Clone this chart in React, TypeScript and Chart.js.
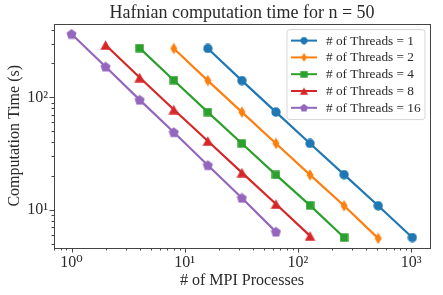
import React, { useEffect, useRef } from "react";
import { Chart, registerables } from "chart.js";

Chart.register(...registerables);

// ---- Data ----
const threadCounts = [1, 2, 4, 8, 16];
const processes1 = [16, 32, 64, 128, 256, 512, 1024];
const processes2 = [8, 16, 32, 64, 128, 256, 512];
const processes4 = [4, 8, 16, 32, 64, 128, 256];
const processes8 = [2, 4, 8, 16, 32, 64, 128];
const processes16 = [1, 2, 4, 8, 16, 32, 64];
const time1 = [272, 141, 74, 39, 20.6, 10.9, 5.7];
const time2 = [272, 141, 74, 39, 20.5, 10.9, 5.6];
const time4 = [274, 142, 74, 39, 20.5, 11.0, 5.7];
const time8 = [292, 150, 78, 41, 21.5, 11.3, 5.9];
const time16 = [365, 187, 95, 49, 25, 12.8, 6.4];
const xTickValues = [1, 10, 100, 1000];
const xTickLabels = ["10\u2070", "10\u00B9", "10\u00B2", "10\u00B3"];
const yTickValues = [10, 100];
const yTickLabels = ["10\u00B9", "10\u00B2"];

const titleText = "Hafnian computation time for n = 50";
const xTitle = "# of MPI Processes";
const yTitle = "Computation Time (s)";

const seriesColors = ["#1f77b4", "#ff7f0e", "#2ca02c", "#d62728", "#9467bd"];
const seriesShapes = ["circle", "thinDiamond", "square", "triangle", "pentagon"];
const seriesX = [processes1, processes2, processes4, processes8, processes16];
const seriesY = [time1, time2, time4, time8, time16];

const FONT = "'Liberation Serif', 'DejaVu Serif', serif";
const TEXT = "#2a2a2a";
const SPINE = "#444";

function makeMarker(shape: string, color: string): HTMLCanvasElement {
  const c = document.createElement("canvas");
  let w = 10, h = 10;
  if (shape === "thinDiamond") { w = 8; h = 12; }
  if (shape === "square") { w = 9; h = 9; }
  if (shape === "triangle") { w = 11; h = 10; }
  if (shape === "pentagon") { w = 11; h = 11; }
  c.width = w; c.height = h;
  const ctx = c.getContext("2d")!;
  ctx.fillStyle = color;
  ctx.beginPath();
  if (shape === "circle") {
    ctx.arc(w / 2, h / 2, 4.7, 0, Math.PI * 2);
  } else if (shape === "thinDiamond") {
    ctx.moveTo(w / 2, 0.3);
    ctx.lineTo(w - 0.5, h / 2);
    ctx.lineTo(w / 2, h - 0.3);
    ctx.lineTo(0.5, h / 2);
    ctx.closePath();
  } else if (shape === "square") {
    ctx.rect(0.3, 0.3, w - 0.6, h - 0.6);
  } else if (shape === "triangle") {
    ctx.moveTo(w / 2, 0.3);
    ctx.lineTo(w - 0.3, h - 0.3);
    ctx.lineTo(0.3, h - 0.3);
    ctx.closePath();
  } else {
    const r = 5.3;
    for (let k = 0; k < 5; k++) {
      const a = -Math.PI / 2 + (k * 2 * Math.PI) / 5;
      const px = w / 2 + r * Math.cos(a);
      const py = h / 2 + 0.4 + r * Math.sin(a);
      if (k === 0) ctx.moveTo(px, py); else ctx.lineTo(px, py);
    }
    ctx.closePath();
  }
  ctx.fill();
  return c;
}

const axesDecor = {
  id: "axesDecor",
  afterDatasetsDraw(chart: any) {
    const { ctx, chartArea } = chart;
    const xs = chart.scales.x;
    const ys = chart.scales.y;
    ctx.save();
    ctx.strokeStyle = SPINE;
    ctx.lineWidth = 1;
    for (let e = -1; e <= 4; e++) {
      for (let m = 1; m <= 9; m++) {
        const v = m * Math.pow(10, e);
        const len = m === 1 ? 4.5 : 2.5;
        if (v >= xs.min && v <= xs.max) {
          const px = Math.round(xs.getPixelForValue(v)) + 0.5;
          ctx.beginPath();
          ctx.moveTo(px, chartArea.bottom);
          ctx.lineTo(px, chartArea.bottom + len);
          ctx.stroke();
        }
        if (v >= ys.min && v <= ys.max) {
          const py = Math.round(ys.getPixelForValue(v)) + 0.5;
          ctx.beginPath();
          ctx.moveTo(chartArea.left, py);
          ctx.lineTo(chartArea.left - len, py);
          ctx.stroke();
        }
      }
    }
    ctx.strokeRect(
      Math.round(chartArea.left) + 0.5,
      Math.round(chartArea.top) + 0.5,
      Math.round(chartArea.right - chartArea.left),
      Math.round(chartArea.bottom - chartArea.top)
    );
    ctx.restore();
  },
};

const legendBox = {
  id: "legendBox",
  afterDraw(chart: any) {
    const { ctx, chartArea } = chart;
    const right = chartArea.right - 5.5;
    const left = right - 138;
    const top = chartArea.top + 5.5;
    const height = 90;
    ctx.save();
    ctx.beginPath();
    ctx.roundRect(left + 0.5, top + 0.5, right - left, height, 3);
    ctx.fillStyle = "rgba(255,255,255,0.8)";
    ctx.fill();
    ctx.strokeStyle = "rgba(204,204,204,0.8)";
    ctx.lineWidth = 1;
    ctx.stroke();
    chart.data.datasets.forEach((ds: any, i: number) => {
      const y = top + 11.5 + i * 16.8;
      const x0 = left + 4.5;
      const x1 = left + 30.5;
      ctx.strokeStyle = ds.borderColor;
      ctx.lineWidth = 2;
      ctx.beginPath();
      ctx.moveTo(x0, y);
      ctx.lineTo(x1, y);
      ctx.stroke();
      const img = ds.pointStyle as HTMLCanvasElement;
      const s = 0.78;
      ctx.drawImage(img, (x0 + x1) / 2 - (img.width * s) / 2, y - (img.height * s) / 2, img.width * s, img.height * s);
      ctx.fillStyle = TEXT;
      ctx.font = `13.3px ${FONT}`;
      ctx.textBaseline = "middle";
      ctx.textAlign = "left";
      ctx.fillText(ds.label, left + 39.5, y + 0.5);
    });
    ctx.restore();
  },
};

export default function App() {
  const ref = useRef<HTMLCanvasElement>(null);
  useEffect(() => {
    document.body.style.margin = "0";
    const canvas = ref.current!;
    const datasets = threadCounts.map((t, i) => ({
      label: `# of Threads = ${t}`,
      data: seriesX[i].map((x, j) => ({ x, y: seriesY[i][j] })),
      borderColor: seriesColors[i],
      backgroundColor: seriesColors[i],
      borderWidth: 2.2,
      pointStyle: makeMarker(seriesShapes[i], seriesColors[i]),
      pointRadius: 5,
      fill: false,
      tension: 0,
    }));
    const chart = new Chart(canvas, {
      type: "line",
      data: { datasets },
      plugins: [axesDecor, legendBox],
      options: {
        animation: false,
        responsive: false,
        devicePixelRatio: 1,
        layout: { padding: { left: 0, right: 13, top: 0, bottom: 0 } },
        plugins: {
          legend: { display: false },
          tooltip: { enabled: false },
          title: {
            display: true,
            text: titleText,
            fullSize: false,
            color: TEXT,
            font: { family: FONT, size: 18, weight: "normal" },
            padding: { top: 2, bottom: 0 },
          },
        },
        scales: {
          x: {
            type: "logarithmic",
            min: 0.708,
            max: 1469,
            afterBuildTicks: (s: any) => {
              s.ticks = xTickValues.map((v) => ({ value: v }));
            },
            afterFit: (s: any) => {
              s.height = 47;
            },
            ticks: {
              autoSkip: false,
              maxRotation: 0,
              padding: 5,
              color: TEXT,
              font: { family: FONT, size: 16 },
              callback: (v: any) => xTickLabels[xTickValues.indexOf(Number(v))] ?? "",
            },
            grid: { display: false, drawTicks: false },
            border: { display: false },
            title: {
              display: true,
              text: xTitle,
              color: TEXT,
              font: { family: FONT, size: 16 },
              padding: { top: 0, bottom: 5 },
            },
          },
          y: {
            type: "logarithmic",
            min: 4.6,
            max: 452,
            afterBuildTicks: (s: any) => {
              s.ticks = yTickValues.map((v) => ({ value: v }));
            },
            afterFit: (s: any) => {
              s.width = 54;
            },
            ticks: {
              autoSkip: false,
              padding: 6,
              color: TEXT,
              font: { family: FONT, size: 16 },
              callback: (v: any) => yTickLabels[yTickValues.indexOf(Number(v))] ?? "",
            },
            grid: { display: false, drawTicks: false },
            border: { display: false },
            title: {
              display: true,
              text: yTitle,
              color: TEXT,
              font: { family: FONT, size: 16 },
              padding: { top: 5, bottom: 0 },
            },
          },
        },
      },
    } as any);
    return () => chart.destroy();
  }, []);
  return <canvas ref={ref} width={443} height={295} style={{ display: "block" }} />;
}
